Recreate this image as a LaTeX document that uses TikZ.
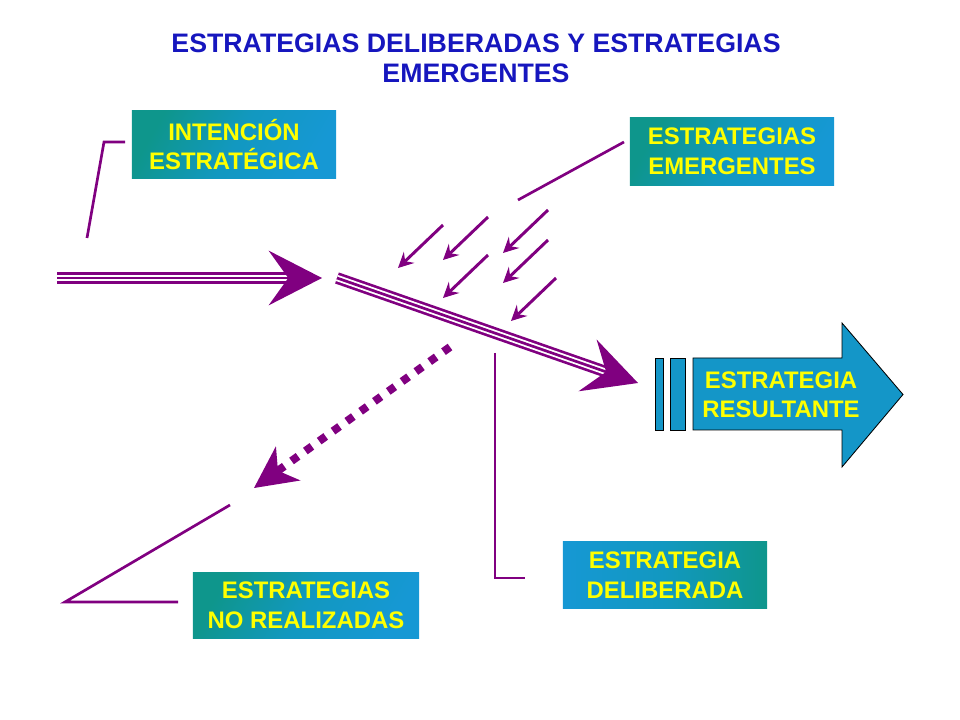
\documentclass[tikz,border=0pt]{standalone}
\usepackage{fontspec}
\setmainfont{Liberation Sans}
\usetikzlibrary{arrows.meta}
\definecolor{violeta}{RGB}{128,0,128}
\definecolor{azultitulo}{RGB}{22,22,190}
\definecolor{cajateal}{RGB}{14,150,140}
\definecolor{cajamedio}{RGB}{18,152,192}
\definecolor{cajaazul}{RGB}{22,152,212}
\definecolor{resultazul}{RGB}{20,150,200}
\definecolor{amarillo}{RGB}{255,255,0}
\tikzset{
  caja/.style={rectangle, inner sep=0pt, minimum width=5.1cm, minimum height=1.68cm,
    left color=cajateal, right color=cajaazul, middle color=cajamedio, shading angle=60,
    text=amarillo, font=\bfseries\fontsize{17}{21}\selectfont, align=center},
  barra/.style={rectangle, draw=black, line width=0.6pt, fill=resultazul,
    inner sep=0pt, minimum height=1.8cm},
  llamada/.style={draw=violeta, line width=1.9pt},
  exterior/.style={draw=violeta, line width=1.9pt, double=white, double distance=4.5pt},
  centro/.style={draw=violeta, line width=1.9pt},
  punta/.style={-{Stealth[length=38pt, width=39pt, inset=14pt, line width=0pt]}},
  emerge/.style={draw=violeta, line width=2.1pt,
    -{Stealth[length=11pt, width=11pt, inset=4pt, line width=0pt]}},
  norealiza/.style={draw=violeta, line width=5.7pt, dash pattern=on 5.7pt off 6.4pt,
    -{Stealth[length=30pt, width=30pt, inset=9pt, line width=0pt]}}
}
\begin{document}
\begin{tikzpicture}[x=0.025cm, y=-0.025cm]
  \useasboundingbox (0,0) rectangle (960,720);
  \node[text=azultitulo, font=\bfseries\fontsize{19}{21.5}\selectfont, align=center]
    (titulo) at (476,58) {ESTRATEGIAS DELIBERADAS Y ESTRATEGIAS\\EMERGENTES};

  \node[caja] (intencion) at (234,144.5) {INTENCIÓN\\ESTRATÉGICA};
  \node[caja] (emergentes) at (732,151.5) {ESTRATEGIAS\\EMERGENTES};
  \node[caja, left color=cajaazul, right color=cajateal, middle color=cajamedio,
    minimum height=1.65cm] (deliberada) at (665,575) {ESTRATEGIA\\DELIBERADA};
  \node[caja, minimum width=5.65cm, minimum height=1.63cm]
    (norealizadas) at (306,605.5) {ESTRATEGIAS\\NO REALIZADAS};

  \draw[draw=black, line width=0.6pt, fill=resultazul]
    (693,358) -- (842,358) -- (842,323) -- (903,394.5) -- (842,467)
    -- (842,430) -- (693,430) -- cycle;
  \node[barra, minimum width=0.2cm] (barra1) at (659,394) {};
  \node[barra, minimum width=0.375cm] (barra2) at (677.5,394) {};
  \node[text=amarillo, font=\bfseries\fontsize{17}{21}\selectfont, align=center]
    (resultante) at (781,395) {ESTRATEGIA\\RESULTANTE};

  \coordinate (intA) at (125,142);
  \coordinate (intB) at (104,142);
  \coordinate (intC) at (87,238);
  \coordinate (emeA) at (624,142);
  \coordinate (emeB) at (518,200);
  \coordinate (delA) at (495,353);
  \coordinate (delB) at (525,578);
  \coordinate (noA) at (230,505);
  \coordinate (noB) at (65,602);
  \coordinate (noC) at (178,602);

  \draw[llamada] (intA) -- (intB) -- (intC);
  \draw[llamada] (emeA) -- (emeB);
  \draw[llamada] (delA) |- (delB);
  \draw[llamada] (noA) -- (noB) -- (noC);

  \coordinate (inicio) at (57,278);
  \coordinate (quiebre) at (322,278);
  \coordinate (desvio) at (337,278);
  \coordinate (llegada) at (638,383);
  \coordinate (fallaA) at (450,347);
  \coordinate (fallaB) at (254,488);

  \draw[exterior, shorten >=24pt] (inicio) -- (quiebre);
  \draw[centro, punta] (inicio) -- (quiebre);
  \draw[exterior, shorten >=24pt] (desvio) -- (llegada);
  \draw[centro, punta] (desvio) -- (llegada);

  \foreach \x/\y in {443/225, 488/217, 548/210, 488/255, 548/240, 556/278}
    \draw[emerge] (\x,\y) -- ++(-45,43);

  \draw[norealiza] (fallaA) -- (fallaB);
\end{tikzpicture}
\end{document}
